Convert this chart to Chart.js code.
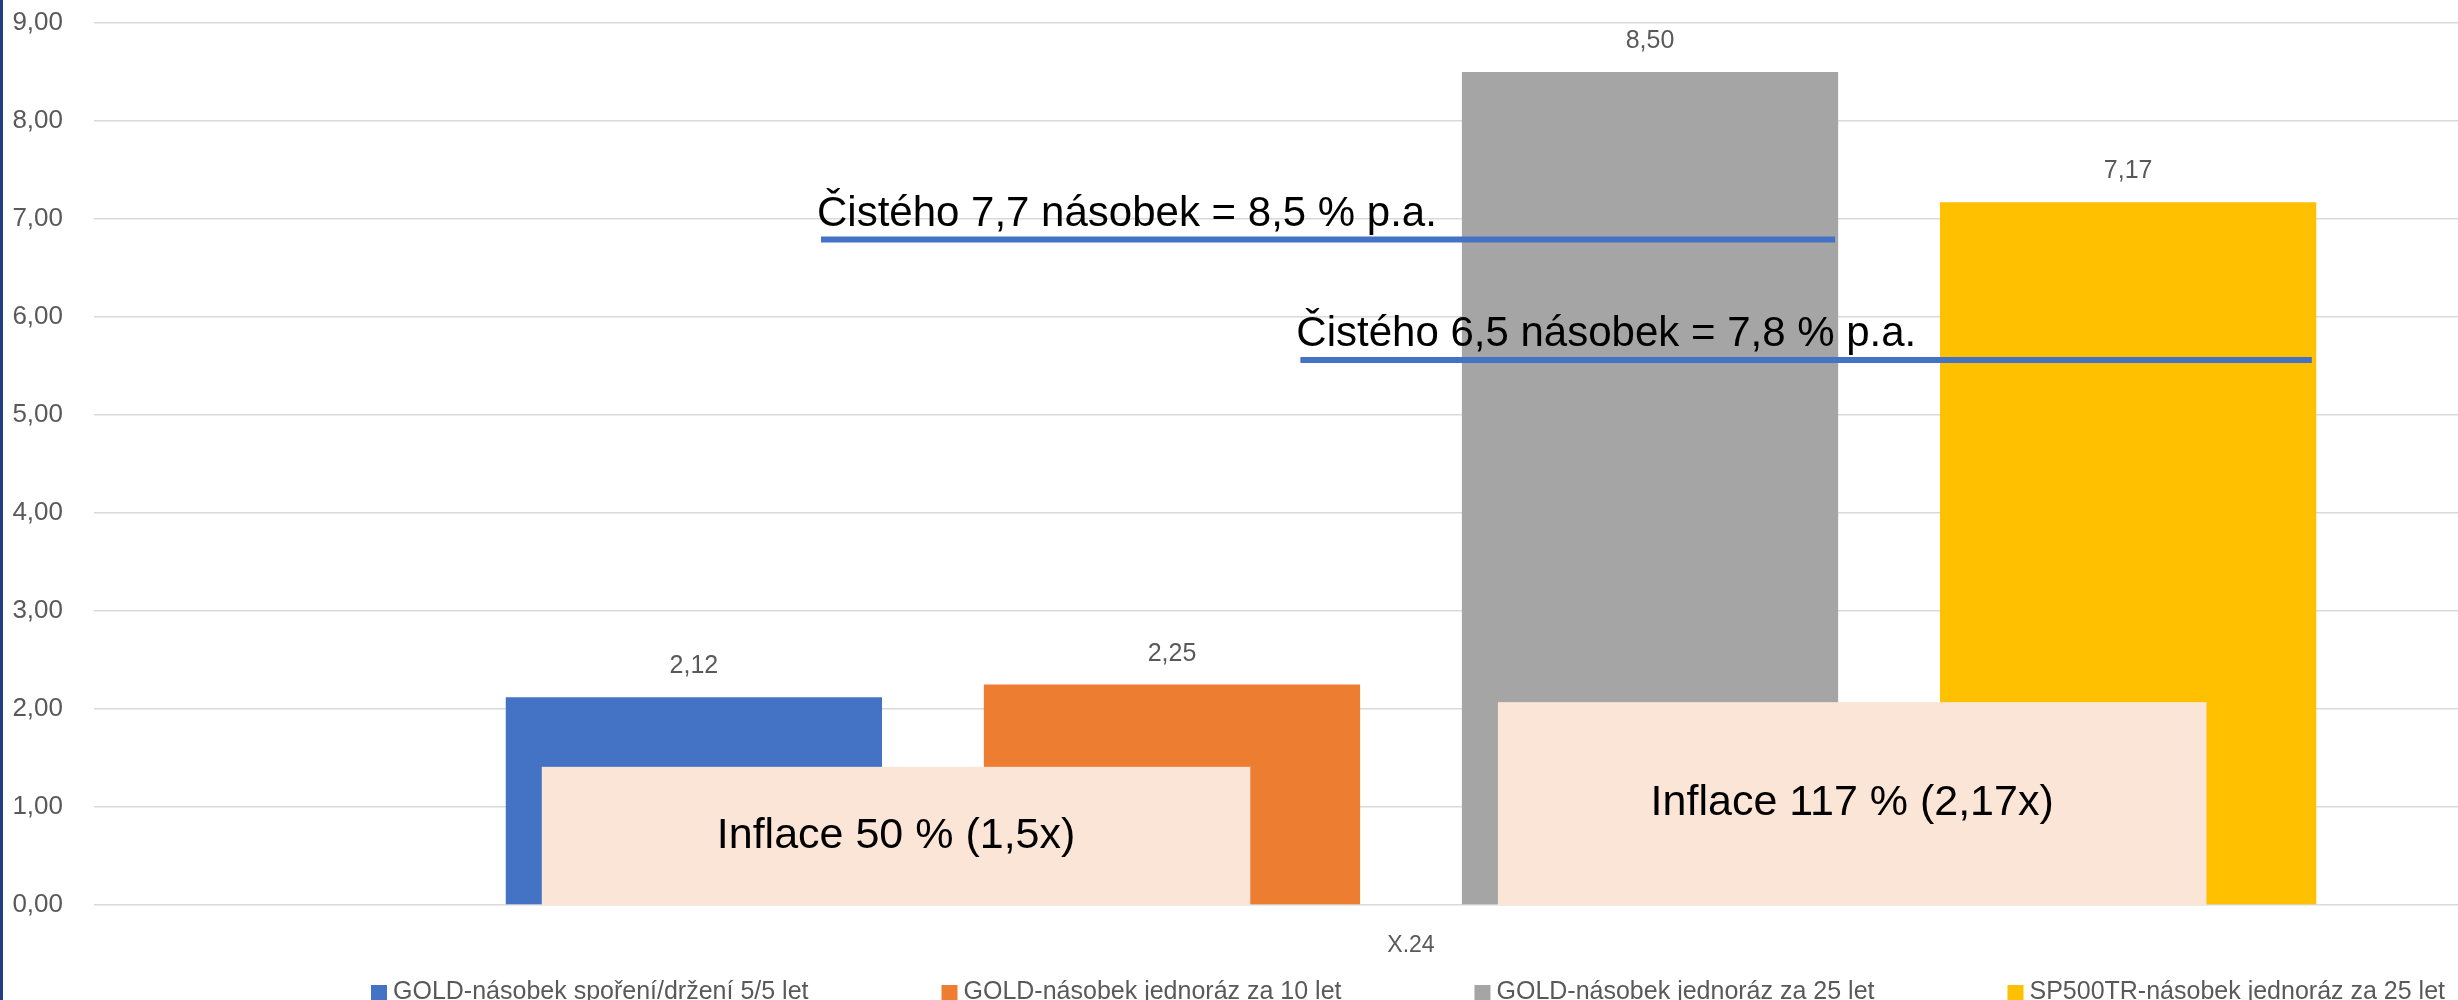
<!DOCTYPE html>
<html>
<head>
<meta charset="utf-8">
<script src="https://cdn.jsdelivr.net/npm/chart.js@4.4.1/dist/chart.umd.min.js"></script>
<style>
  html, body { margin: 0; padding: 0; background: #fff; overflow: hidden; }
  #wrap { position: relative; width: 2458px; height: 1000px; overflow: hidden; }
  #edge { position: absolute; left: 0; top: 0; width: 3px; height: 1000px; background: #203f80; }
</style>
</head>
<body>
<div id="wrap">
  <canvas id="myChart" width="2816" height="1000"></canvas>
  <div id="edge"></div>
</div>
<script>
const categories = ['X.24'];

const seriesNames = [
    'GOLD-násobek spoření/držení 5/5 let',
    'GOLD-násobek jednoráz za 10 let',
    'GOLD-násobek jednoráz za 25 let',
    'SP500TR-násobek jednoráz za 25 let',
];
const goldSaving = [2.12];
const gold10 = [2.25];
const gold25 = [8.50];
const sp500tr25 = [7.17];
const seriesColors = ['#4472C4', '#ED7D31', '#A5A5A5', '#FFC000'];

const yMax = 9;
const yStep = 1;

// inflation boxes (top level on y, span in category units)
const inflationTexts = ['Inflace 50 % (1,5x)', 'Inflace 117 % (2,17x)'];
const inflationLevels = [1.41, 2.07];
const inflationSpans = [[-0.33, -0.061], [0.033, 0.302]];

// net multiple lines
const netTexts = ['Čistého 7,7 násobek = 8,5 % p.a.', 'Čistého 6,5 násobek = 7,8 % p.a.'];
const netLevels = [6.79, 5.56];
const netSpans = [[-0.224, 0.161], [-0.042, 0.342]];

const fmt = v => v.toFixed(2).replace('.', ',');
const FONT = '"Liberation Sans", Arial, sans-serif';

const valueLabels = {
    id: 'valueLabels',
    afterDatasetsDraw(chart) {
        const ctx = chart.ctx;
        ctx.save();
        ctx.font = '25px ' + FONT;
        ctx.fillStyle = '#595959';
        ctx.textAlign = 'center';
        ctx.textBaseline = 'alphabetic';
        chart.data.datasets.forEach((ds, i) => {
            chart.getDatasetMeta(i).data.forEach((bar, j) => {
                ctx.fillText(fmt(ds.data[j]), bar.x, bar.y - 24);
            });
        });
        ctx.restore();
    }
};

const notes = {
    id: 'notes',
    afterDatasetsDraw(chart) {
        const ctx = chart.ctx;
        const x = chart.scales.x, y = chart.scales.y;
        ctx.save();
        // inflation boxes
        inflationTexts.forEach((t, i) => {
            const l = x.getPixelForValue(inflationSpans[i][0]);
            const r = x.getPixelForValue(inflationSpans[i][1]);
            const top = y.getPixelForValue(inflationLevels[i]);
            const bot = y.getPixelForValue(0);
            ctx.fillStyle = '#FBE5D6';
            ctx.fillRect(l, top, r - l, bot - top);
            ctx.fillStyle = '#000';
            ctx.font = '43px ' + FONT;
            ctx.textAlign = 'center';
            ctx.textBaseline = 'middle';
            ctx.fillText(t, (l + r) / 2, (top + bot) / 2);
        });
        // net lines
        netTexts.forEach((t, i) => {
            const l = x.getPixelForValue(netSpans[i][0]);
            const r = x.getPixelForValue(netSpans[i][1]);
            const py = y.getPixelForValue(netLevels[i]);
            ctx.strokeStyle = '#4472C4';
            ctx.lineWidth = 6;
            ctx.beginPath();
            ctx.moveTo(l, py);
            ctx.lineTo(r, py);
            ctx.stroke();
            ctx.fillStyle = '#000';
            ctx.font = '42px ' + FONT;
            ctx.textAlign = 'left';
            ctx.textBaseline = 'alphabetic';
            ctx.fillText(t, l - 4, py - 14);
        });
        ctx.restore();
    }
};

const bottomLegend = {
    id: 'bottomLegend',
    afterDraw(chart) {
        const ctx = chart.ctx;
        ctx.save();
        ctx.font = '25px ' + FONT;
        const box = 16, boxGap = 6, itemGap = 133;
        const widths = seriesNames.map(n => box + boxGap + ctx.measureText(n).width);
        const total = widths.reduce((a, b) => a + b, 0) + itemGap * (widths.length - 1);
        let cx = chart.width / 2 - total / 2;
        seriesNames.forEach((n, i) => {
            ctx.fillStyle = seriesColors[i];
            ctx.fillRect(cx, 985, box, box);
            ctx.fillStyle = '#595959';
            ctx.textAlign = 'left';
            ctx.textBaseline = 'alphabetic';
            ctx.fillText(n, cx + box + boxGap, 999);
            cx += widths[i] + itemGap;
        });
        ctx.restore();
    }
};

const data = {
    labels: categories,
    datasets: [goldSaving, gold10, gold25, sp500tr25].map((vals, i) => ({
        label: seriesNames[i],
        data: vals,
        backgroundColor: seriesColors[i],
        categoryPercentage: 0.726,
        barPercentage: 0.787,
    }))
};

const config = {
    type: 'bar',
    data: data,
    options: {
        responsive: false,
        animation: false,
        devicePixelRatio: 1,
        layout: { padding: { top: 23, right: 88, left: 0, bottom: 0 } },
        plugins: {
            legend: { display: false },
            tooltip: { enabled: false }
        },
        scales: {
            x: {
                grid: { display: false },
                border: { display: false },
                ticks: { color: '#595959', font: { family: FONT, size: 23 }, padding: 19 },
                afterFit: s => { s.height = 95; }
            },
            y: {
                min: 0,
                max: yMax,
                ticks: {
                    stepSize: yStep,
                    color: '#595959',
                    font: { family: FONT, size: 26 },
                    padding: 31,
                    callback: v => fmt(v)
                },
                grid: { color: '#d9d9d9', lineWidth: 1.5, drawTicks: false },
                border: { display: false },
                afterFit: s => {
                    s.width = 94;
                    s.paddingTop = 0;
                    s.paddingBottom = 0;
                }
            }
        }
    },
    plugins: [valueLabels, notes, bottomLegend]
};

const myChart = new Chart(document.getElementById('myChart'), config);
</script>
</body>
</html>
